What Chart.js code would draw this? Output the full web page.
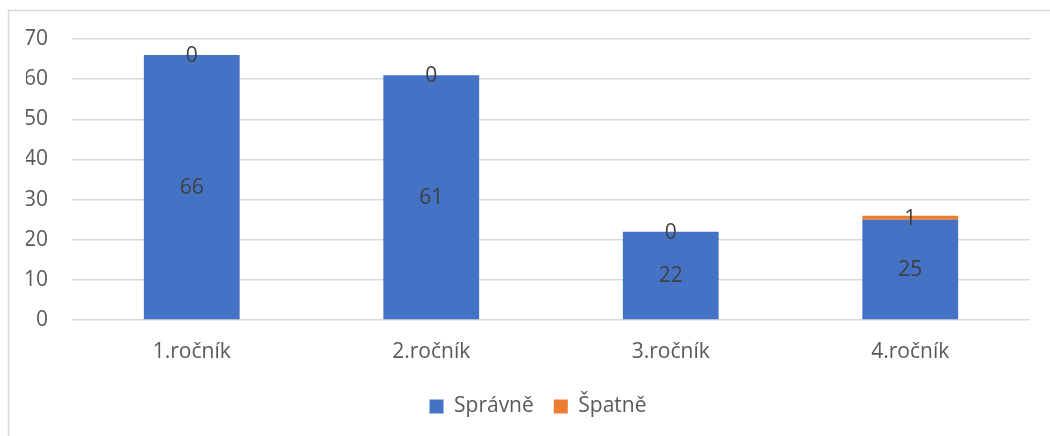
<!DOCTYPE html>
<html>
<head>
<meta charset="utf-8">
<script src="https://cdn.jsdelivr.net/npm/chart.js@4.4.1/dist/chart.umd.min.js"></script>
<style>
  html, body { margin: 0; padding: 0; background: #ffffff; }
  #wrap { width: 1050px; height: 436px; position: relative; }
</style>
</head>
<body>
<div id="wrap"><canvas id="c" width="1050" height="436"></canvas></div>
<script>
const categories = ['1.ročník', '2.ročník', '3.ročník', '4.ročník'];
const spravne = [66, 61, 22, 25];
const spatne = [0, 0, 0, 1];
const yTicks = [0, 10, 20, 30, 40, 50, 60, 70];

const FONT = '"Open Sans", "Noto Sans", sans-serif';
const FONT_SIZE = 21;
const GRID = '#d9d9d9';

// Frame lines along the left and top edge of the chart block
const framePlugin = {
  id: 'frame',
  beforeDraw(chart) {
    const ctx = chart.ctx;
    ctx.save();
    ctx.strokeStyle = GRID;
    ctx.lineWidth = 1.5;
    ctx.beginPath();
    ctx.moveTo(8.5, chart.height);
    ctx.lineTo(8.5, 10.5);
    ctx.lineTo(chart.width, 10.5);
    ctx.stroke();
    ctx.restore();
  }
};

// Value labels centred in each stacked segment
const valueLabels = {
  id: 'valueLabels',
  afterDatasetsDraw(chart) {
    const ctx = chart.ctx;
    ctx.save();
    ctx.font = FONT_SIZE + 'px ' + FONT;
    ctx.fillStyle = '#404040';
    ctx.textAlign = 'center';
    ctx.textBaseline = 'middle';
    chart.data.datasets.forEach((ds, di) => {
      const meta = chart.getDatasetMeta(di);
      meta.data.forEach((bar, i) => {
        const y = (bar.y + bar.base) / 2 + 1;
        ctx.fillText(String(ds.data[i]), bar.x, y);
      });
    });
    ctx.restore();
  }
};

new Chart(document.getElementById('c'), {
  type: 'bar',
  data: {
    labels: categories,
    datasets: [
      { label: 'Správně', data: spravne, backgroundColor: '#4472c4', categoryPercentage: 0.4, barPercentage: 1 },
      { label: 'Špatně', data: spatne, backgroundColor: '#ed7d31', categoryPercentage: 0.4, barPercentage: 1 }
    ]
  },
  options: {
    responsive: false,
    animation: false,
    devicePixelRatio: 1,
    layout: { padding: { top: 39, right: 0, bottom: 9, left: 26 } },
    plugins: {
      tooltip: { enabled: false },
      legend: {
        position: 'bottom',
        labels: {
          boxWidth: 14,
          boxHeight: 14,
          padding: 20,
          color: '#595959',
          font: { family: FONT, size: FONT_SIZE }
        }
      }
    },
    scales: {
      x: {
        stacked: true,
        grid: { display: false, drawTicks: false },
        border: { display: false },
        ticks: { color: '#595959', font: { family: FONT, size: FONT_SIZE }, padding: 19 },
        afterFit(scale) { scale.height = 56; }
      },
      y: {
        stacked: true,
        min: 0,
        max: 70,
        afterBuildTicks(scale) { scale.ticks = yTicks.map(v => ({ value: v })); },
        grid: { color: GRID, lineWidth: 1.5, drawTicks: false },
        border: { display: false },
        ticks: { color: '#595959', font: { family: FONT, size: FONT_SIZE }, padding: 24 },
        afterFit(scale) { scale.width = 46; }
      },
      // empty right-hand margin axis, keeps a gap after the plot area
      yRight: {
        position: 'right',
        display: true,
        grid: { display: false, drawTicks: false },
        border: { display: false },
        ticks: { display: false },
        afterFit(scale) { scale.width = 20; }
      }
    }
  },
  plugins: [framePlugin, valueLabels]
});
</script>
</body>
</html>
